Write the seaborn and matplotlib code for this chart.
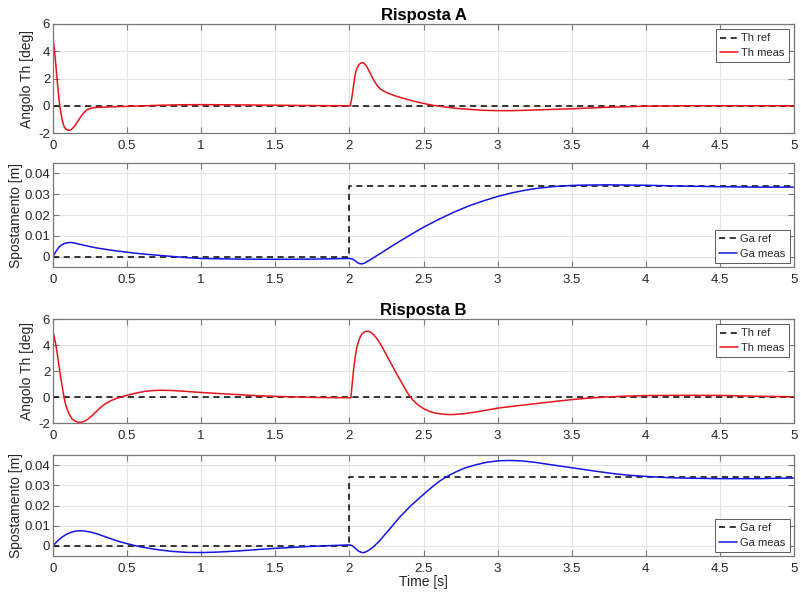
import numpy as np
import pandas as pd
import matplotlib
matplotlib.use("Agg")
import matplotlib.pyplot as plt
import seaborn as sns

# ---------------- data ----------------
t_ref = [0, 2, 2, 5]
th_ref = [0, 0, 0, 0]
ga_ref_vals = [0, 0, 0.034, 0.034]

# Risposta A - angle
tA_th = [0, 0.01, 0.02, 0.03, 0.042, 0.052, 0.062, 0.072, 0.085, 0.098, 0.11, 0.122,
         0.135, 0.15, 0.165, 0.18, 0.195, 0.21, 0.225, 0.24, 0.26, 0.28, 0.3, 0.35,
         0.42, 0.55, 0.7, 0.85, 1.0, 1.2, 1.5, 1.8, 2.0, 2.006, 2.015, 2.024, 2.032,
         2.04, 2.05, 2.062, 2.075, 2.089, 2.1, 2.11, 2.12, 2.135, 2.152, 2.17, 2.186,
         2.2, 2.215, 2.231, 2.26, 2.298, 2.34, 2.388, 2.44, 2.5, 2.55, 2.59, 2.65,
         2.72, 2.815, 2.9, 3.0, 3.1, 3.25, 3.5, 3.75, 4.0, 4.25, 5.0]
thA = [4.95, 4.1, 2.9, 1.65, 0.3, -0.45, -1.05, -1.45, -1.7, -1.79, -1.8, -1.75,
       -1.63, -1.43, -1.18, -0.93, -0.69, -0.49, -0.34, -0.24, -0.17, -0.14, -0.12, -0.1,
       -0.07, -0.03, 0.03, 0.07, 0.08, 0.07, 0.04, 0.01, 0.0, 0.0, 0.5, 1.15, 1.8,
       2.35, 2.72, 2.98, 3.12, 3.16, 3.1, 2.98, 2.82, 2.5, 2.13, 1.78, 1.5,
       1.32, 1.18, 1.08, 0.92, 0.77, 0.62, 0.47, 0.32, 0.17, 0.06, -0.01, -0.1,
       -0.19, -0.27, -0.33, -0.36, -0.36, -0.31, -0.22, -0.11, -0.03, 0.0, 0.0]

# Risposta A - displacement
tA_ga = [0, 0.02, 0.04, 0.06, 0.08, 0.1, 0.12, 0.14, 0.17, 0.2, 0.25, 0.3, 0.4, 0.5,
         0.6, 0.7, 0.8, 0.9, 1.0, 1.25, 1.5, 1.75, 2.0, 2.02, 2.04, 2.055, 2.07, 2.085,
         2.1, 2.12, 2.15, 2.2, 2.27, 2.34, 2.42, 2.5, 2.6, 2.7, 2.8, 2.9, 3.0, 3.1,
         3.2, 3.3, 3.4, 3.5, 3.6, 3.75, 4.0, 4.25, 4.5, 4.75, 5.0]
gaA = [0, 0.0025, 0.0045, 0.0057, 0.0064, 0.0067, 0.0068, 0.0066, 0.0061, 0.0056,
       0.0048, 0.0041, 0.003, 0.0021, 0.0013, 0.0007, 0.0001, -0.0005, -0.0009,
       -0.0012, -0.0013, -0.0012, -0.0009, -0.0011, -0.0021, -0.0029, -0.0034,
       -0.0035, -0.0032, -0.0024, -0.0011, 0.0011, 0.0043, 0.0074, 0.0108, 0.0141,
       0.0178, 0.0212, 0.0242, 0.0267, 0.0289, 0.0307, 0.0321, 0.0331, 0.0338,
       0.0342, 0.0344, 0.0345, 0.0343, 0.0339, 0.0336, 0.0334, 0.0334]

# Risposta B - angle
tB_th = [0, 0.01, 0.02, 0.03, 0.04, 0.05, 0.06, 0.071, 0.08, 0.09, 0.1, 0.115, 0.13,
         0.15, 0.165, 0.183, 0.2, 0.22, 0.24, 0.26, 0.28, 0.307, 0.33, 0.36, 0.397,
         0.44, 0.487, 0.53, 0.577, 0.62, 0.666, 0.72, 0.78, 0.85, 0.92, 1.0, 1.1, 1.25,
         1.4, 1.5, 1.65, 1.8, 2.0, 2.01, 2.018, 2.028, 2.04, 2.051, 2.068, 2.085, 2.1,
         2.115, 2.13, 2.145, 2.163, 2.185, 2.208, 2.23, 2.254, 2.276, 2.298, 2.32,
         2.343, 2.365, 2.385, 2.405, 2.425, 2.45, 2.48, 2.51, 2.545, 2.58, 2.62, 2.66,
         2.703, 2.77, 2.838, 2.9, 3.0, 3.12, 3.25, 3.38, 3.5, 3.6, 3.7, 3.85, 4.0,
         4.25, 4.5, 4.75, 5.0]
thB = [5.02, 4.55, 3.95, 3.25, 2.45, 1.65, 0.95, 0.2, -0.35, -0.75, -1.08, -1.45, -1.7,
       -1.86, -1.93, -1.95, -1.92, -1.82, -1.66, -1.47, -1.25, -0.96, -0.72, -0.47, -0.25,
       -0.06, 0.09, 0.22, 0.34, 0.43, 0.49, 0.52, 0.51, 0.47, 0.41, 0.35, 0.28, 0.18,
       0.09, 0.05, 0.0, -0.04, -0.06, -0.06, 0.9, 2.1, 3.15, 3.85, 4.5, 4.86, 5.0,
       5.06, 5.05, 4.97, 4.8, 4.5, 4.1, 3.65, 3.15, 2.68, 2.22, 1.76,
       1.3, 0.85, 0.45, 0.1, -0.2, -0.48, -0.75, -0.95, -1.12, -1.24, -1.31, -1.35,
       -1.35, -1.29, -1.18, -1.06, -0.86, -0.69, -0.52, -0.35, -0.2, -0.1, -0.02, 0.06, 0.11,
       0.13, 0.12, 0.06, 0.02]

# Risposta B - displacement
tB_ga = [0, 0.03, 0.06, 0.09, 0.12, 0.15, 0.18, 0.21, 0.25, 0.3, 0.35, 0.4, 0.45, 0.5,
         0.55, 0.6, 0.7, 0.8, 0.9, 1.0, 1.1, 1.25, 1.4, 1.5, 1.75, 2.0, 2.02, 2.04,
         2.06, 2.08, 2.095, 2.11, 2.13, 2.16, 2.2, 2.27, 2.34, 2.42, 2.5, 2.56, 2.6,
         2.64, 2.68, 2.72, 2.78, 2.85, 2.92, 3.0, 3.08, 3.16, 3.25, 3.35, 3.5, 3.65,
         3.8, 3.9, 4.0, 4.15, 4.3, 4.5, 4.75, 5.0]
gaB = [0, 0.0024, 0.0043, 0.0057, 0.0067, 0.0073, 0.0075, 0.0074, 0.0069, 0.0059,
       0.0046, 0.0033, 0.0021, 0.0011, 0.0002, -0.0006, -0.0018, -0.0027, -0.0032,
       -0.0033, -0.0031, -0.0025, -0.0017, -0.0012, -0.0002, 0.0005, 0.0001, -0.0012,
       -0.0025, -0.0032, -0.0033, -0.003, -0.0022, -0.0006, 0.0022, 0.0082, 0.0143,
       0.0203, 0.0255, 0.0293, 0.0316, 0.0336, 0.0352, 0.0367, 0.0386, 0.0401, 0.0413,
       0.0421, 0.0423, 0.0421, 0.0414, 0.0403, 0.0387, 0.0371, 0.0356, 0.0349, 0.0344,
       0.0338, 0.0335, 0.0333, 0.0333, 0.0336]

x_ticks = [0, 0.5, 1, 1.5, 2, 2.5, 3, 3.5, 4, 4.5, 5]
x_ticklabels = ["0", "0.5", "1", "1.5", "2", "2.5", "3", "3.5", "4", "4.5", "5"]
th_ticks = [-2, 0, 2, 4, 6]
th_ticklabels = ["-2", "0", "2", "4", "6"]
ga_ticks = [0, 0.01, 0.02, 0.03, 0.04]
ga_ticklabels = ["0", "0.01", "0.02", "0.03", "0.04"]

# ---------------- style ----------------
sns.set_theme(style="white")
plt.rcParams['font.family'] = ['Liberation Sans', 'DejaVu Sans']
axis_col = "#262626"
grid_col = "#e3e3e3"

fig = plt.figure(figsize=(8.01, 5.92), dpi=100)
L, W = 53 / 801, 741 / 801
def box(top, bottom):
    return [L, 1 - bottom / 592, W, (bottom - top) / 592]

ax1 = fig.add_axes(box(24, 133))
ax2 = fig.add_axes(box(163, 267))
ax3 = fig.add_axes(box(319, 423))
ax4 = fig.add_axes(box(455, 556))

def style(ax, yticks, ylabels, ylim, ylabel):
    ax.set_xlim(0, 5)
    ax.set_ylim(*ylim)
    ax.set_xticks(x_ticks)
    ax.set_xticklabels(x_ticklabels)
    ax.set_yticks(yticks)
    ax.set_yticklabels(ylabels)
    ax.grid(True, color=grid_col, linewidth=0.8)
    ax.set_axisbelow(True)
    for s in ax.spines.values():
        s.set_color("#7a7a7a")
        s.set_linewidth(0.9)
    ax.tick_params(direction="in", length=4, width=0.8, color="#7a7a7a",
                   top=True, right=True, bottom=True, left=True,
                   labelsize=9.5, labelcolor=axis_col)
    ax.tick_params(axis="x", pad=5)
    ax.tick_params(axis="y", pad=2)
    ax.set_ylabel(ylabel, fontsize=10, color=axis_col, labelpad=3)
    ax.set_xlabel("")

LEG = dict(fontsize=8, frameon=True, fancybox=False, edgecolor="#5a5a5a",
           framealpha=1, handlelength=1.6, handletextpad=0.3, borderpad=0.4,
           labelspacing=0.4)

def draw_th(ax, t, v, title):
    sns.lineplot(x=t_ref, y=th_ref, ax=ax, color="black", linestyle=(0, (4, 3)),
                 linewidth=1.1, label="Th ref", estimator=None, sort=False)
    sns.lineplot(x=t, y=v, ax=ax, color="#e8141b", linewidth=1.1,
                 label="Th meas", estimator=None, sort=False)
    style(ax, th_ticks, th_ticklabels, (-2, 6), "Angolo Th [deg]")
    ax.set_title(title, fontsize=12, fontweight="bold", color="black", pad=3)
    leg = ax.legend(loc="upper right", borderaxespad=0.45, **LEG)
    leg.get_frame().set_linewidth(0.7)

def draw_ga(ax, t, v):
    sns.lineplot(x=t_ref, y=ga_ref_vals, ax=ax, color="black", linestyle=(0, (4, 3)),
                 linewidth=1.1, label="Ga ref", estimator=None, sort=False)
    sns.lineplot(x=t, y=v, ax=ax, color="#1414e6", linewidth=1.1,
                 label="Ga meas", estimator=None, sort=False)
    style(ax, ga_ticks, ga_ticklabels, (-0.005, 0.045), "Spostamento [m]")
    ax.yaxis.labelpad = 1
    leg = ax.legend(loc="lower right", borderaxespad=0.35, **LEG)
    leg.get_frame().set_linewidth(0.7)

draw_th(ax1, tA_th, thA, "Risposta A")
draw_ga(ax2, tA_ga, gaA)
draw_th(ax3, tB_th, thB, "Risposta B")
draw_ga(ax4, tB_ga, gaB)
ax4.set_xlabel("Time [s]", fontsize=10, color=axis_col, labelpad=0)

fig.savefig("out.png", dpi=100)
